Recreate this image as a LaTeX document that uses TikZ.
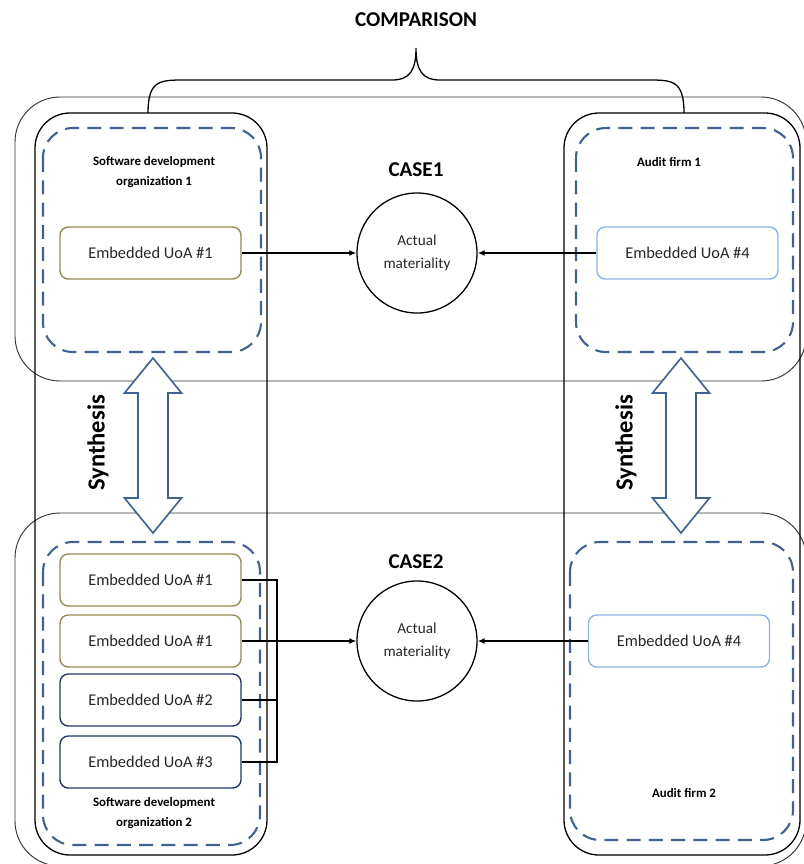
\documentclass[tikz,border=0pt]{standalone}
\usepackage{fontspec}
\setmainfont{Carlito}
\usepackage{tikz}
\usetikzlibrary{calc, positioning, arrows.meta}
\definecolor{dashblue}{HTML}{41628F}
\definecolor{uoaolive}{HTML}{948A54}
\definecolor{uoadark}{HTML}{203864}
\definecolor{uoalight}{HTML}{8DB3E2}
\definecolor{txtgray}{HTML}{262626}
\tikzset{
	x = 0.03cm,
	y = -0.03cm,
	casebox/.style={
		draw=black!80,
		line width=.8pt,
		rounded corners=1.35cm
	},
	orgbox/.style={
		draw,
		line width=1.1pt,
		rounded corners=1.05cm
	},
	dashbox/.style={
		draw=dashblue,
		line width=1.8pt,
		dash pattern=on 12pt off 7pt,
		rounded corners=.9cm
	},
	uoa/.style={
		draw,
		rounded corners=.25cm,
		line width=1.2pt,
		minimum width=5.43cm,
		minimum height=1.56cm,
		text=txtgray,
		font=\fontsize{14}{16}\selectfont
	},
	materiality/.style={
		draw,
		circle,
		line width=1.1pt,
		minimum size=3.6cm,
		align=center,
		text=txtgray,
		font=\fontsize{13}{19}\selectfont
	},
	heading/.style={
		font=\bfseries\fontsize{18}{20}\selectfont
	},
	orglabel/.style={
		align=center,
		font=\bfseries\fontsize{11}{17}\selectfont
	},
	synthlabel/.style={
		rotate=90,
		font=\bfseries\fontsize{21}{24}\selectfont
	},
	synth/.style={
		draw=dashblue,
		fill=white,
		line width=1.4pt
	},
	link/.style={
		line width=1.1pt
	},
	edge/.style={
		-{Latex[length=6pt,width=5pt]},
		line width=1.1pt
	}
}

\begin{document}
\begin{tikzpicture}
\useasboundingbox (0,0) rectangle (803,864);

% case frames
\draw[casebox] (15,97) rectangle (806,381);
\draw[casebox] (15,513) rectangle (806,866);

% organisation columns
\draw[orgbox] (35,113) rectangle (267,855);
\draw[orgbox] (564,113) rectangle (800,855);

% dashed units of analysis
\draw[dashbox] (43,128) rectangle (261,352);
\draw[dashbox] (576,128) rectangle (793,352);
\draw[dashbox] (43,542) rectangle (260,845);
\draw[dashbox] (570,542) rectangle (793,840);

% comparison brace
\draw[line width=1.1pt] (148,113) .. controls (148,80) and (160,80) .. (185,80)
	-- (392,80) .. controls (410,80) and (416,70) .. (416,48)
	.. controls (416,70) and (422,80) .. (440,80)
	-- (648,80) .. controls (672,80) and (684,80) .. (684,113);
\node[heading] (comparison) at (416,20) {COMPARISON};

% case 1
\node[heading] (case1) at (416,170) {CASE1};
\node[materiality] (mat1) at (417,253) {Actual\\materiality};
\node[uoa, draw=uoaolive] (u1) at (150.5,253) {Embedded UoA \#1};
\node[uoa, draw=uoalight] (u4) at (687.5,253) {Embedded UoA \#4};
\node[orglabel] (org1) at (154,172) {Software development\\organization 1};
\node[orglabel] (aud1) at (669,162) {Audit firm 1};

\draw[edge] (u1) -- (mat1);
\draw[edge] (u4) -- (mat1);

% case 2
\node[heading] (case2) at (416,562) {CASE2};
\node[materiality] (mat2) at (417,641) {Actual\\materiality};
\node[uoa, draw=uoaolive] (b1) at (150.5,580) {Embedded UoA \#1};
\node[uoa, draw=uoaolive] (b2) at (150.5,641) {Embedded UoA \#1};
\node[uoa, draw=uoadark] (b3) at (150.5,700) {Embedded UoA \#2};
\node[uoa, draw=uoadark] (b4) at (150.5,762) {Embedded UoA \#3};
\node[uoa, draw=uoalight] (b5) at (679,641) {Embedded UoA \#4};
\node[orglabel] (org2) at (154,813) {Software development\\organization 2};
\node[orglabel] (aud2) at (684,793) {Audit firm 2};

\coordinate (join) at (277,641);
\draw[link] (b1.east) -- (b1.east -| join) -- (b4.east -| join) -- (b4.east);
\draw[link] (b3.east) -- (b3.east -| join);
\draw[edge] (b2) -- (mat2);
\draw[edge] (b5) -- (mat2);

% synthesis arrows
\foreach \x in {153,681}
	\draw[synth] (\x,358) -- (\x+28.5,393) -- (\x+15,393) -- (\x+15,498) -- (\x+28.5,498)
		-- (\x,533) -- (\x-28.5,498) -- (\x-15,498) -- (\x-15,393) -- (\x-28.5,393) -- cycle;
\node[synthlabel] (synth1) at (98,443) {Synthesis};
\node[synthlabel] (synth2) at (626,443) {Synthesis};
\end{tikzpicture}
\end{document}
